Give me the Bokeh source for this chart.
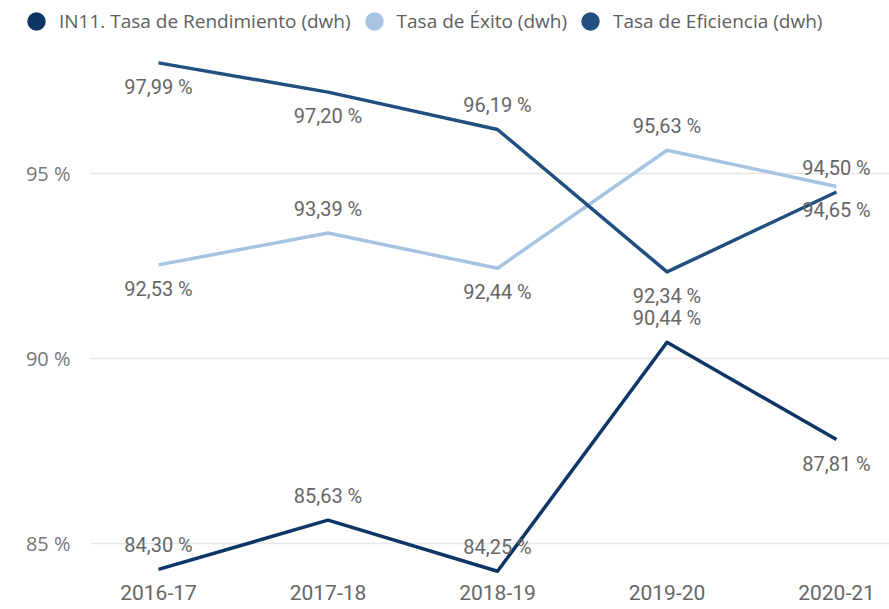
from bokeh.plotting import figure
from bokeh.layouts import column
from bokeh.models import ColumnDataSource, Range1d, FixedTicker, Legend, LegendItem
from bokeh.core.properties import value
from bokeh.embed import file_html
from bokeh.resources import INLINE

# ---- data ----
years = ["2016-17", "2017-18", "2018-19", "2019-20", "2020-21"]
rendimiento = [84.30, 85.63, 84.25, 90.44, 87.81]
exito = [92.53, 93.39, 92.44, 95.63, 94.65]
eficiencia = [97.99, 97.20, 96.19, 92.34, 94.50]
y_ticks = [85, 90, 95]
series_names = ["IN11. Tasa de Rendimiento (dwh)", "Tasa de Éxito (dwh)", "Tasa de Eficiencia (dwh)"]

# ---- style ----
colors = ["#0D3566", "#A6C4E1", "#21507F"]
label_side = [
    ["above", "above", "above", "above", "below"],
    ["below", "above", "below", "above", "below"],
    ["below", "below", "above", "below", "above"],
]
LABEL_OFF = 24
TEXT_GREY = "#666666"

W = 889
LEG_H = 42
H = 609 - LEG_H
LEFT, BOTTOM = 90, 25
frame_h = H - BOTTOM
px_per_unit = 37.0
y_top = 95 + (173 - LEG_H) / px_per_unit
y_bottom = y_top - frame_h / px_per_unit
x_px = 169.5
x_left = (90 - 158) / x_px
x_right = (889 - 158) / x_px

xs = list(range(len(years)))
all_series = [rendimiento, exito, eficiencia]

# ---- legend strip ----
lf = figure(width=W, height=LEG_H, output_backend="svg", toolbar_location=None,
            x_range=Range1d(0, 1), y_range=Range1d(0, 1),
            min_border_left=0, min_border_right=0, min_border_top=0, min_border_bottom=0)
lf.frame_align = False
lf.axis.visible = False
lf.grid.visible = False
lf.outline_line_color = None
lf.border_fill_color = "white"
items = []
for name, vals, col in zip(series_names, all_series, colors):
    r = lf.scatter(x=xs, y=vals, marker="circle", size=0, line_width=0,
                   fill_color=col, line_color=col)
    items.append(LegendItem(label=name, renderers=[r]))
GL = 46
legend = Legend(items=items, orientation="horizontal",
                location=(13, LEG_H - (21 + GL // 2)),
                glyph_width=GL, glyph_height=GL, label_standoff=-20,
                spacing=-24, padding=0, margin=0,
                label_text_font="Open Sans", label_text_font_size="19px",
                label_text_color="#605E5C", label_text_baseline="middle",
                border_line_color=None, background_fill_alpha=0)
lf.add_layout(legend, "center")

# ---- main chart ----
p = figure(width=W, height=H, output_backend="svg", toolbar_location=None,
           x_range=Range1d(x_left, x_right), y_range=Range1d(y_bottom, y_top),
           min_border_left=LEFT, min_border_right=0, min_border_top=0,
           min_border_bottom=BOTTOM)
p.frame_align = False
p.outline_line_color = None
p.background_fill_color = "white"
p.border_fill_color = "white"

xa = p.xaxis[0]
xa.ticker = FixedTicker(ticks=xs)
xa.major_label_overrides = {i: y for i, y in enumerate(years)}
xa.axis_line_color = None
xa.major_tick_line_color = None
xa.minor_tick_line_color = None
xa.major_tick_out = 0
xa.major_tick_in = 0
xa.major_label_standoff = 0
xa.major_label_text_font = "Roboto"
xa.major_label_text_font_size = "21px"
xa.major_label_text_color = TEXT_GREY

ya = p.yaxis[0]
ya.ticker = FixedTicker(ticks=y_ticks)
ya.major_label_overrides = {t: f"{t} %" for t in y_ticks}
ya.axis_line_color = None
ya.major_tick_line_color = None
ya.minor_tick_line_color = None
ya.major_tick_out = 0
ya.major_tick_in = 0
ya.major_label_standoff = 20
ya.major_label_text_font = "Open Sans"
ya.major_label_text_font_size = "20px"
ya.major_label_text_color = "#777777"

p.xgrid.grid_line_color = None
p.ygrid.ticker = FixedTicker(ticks=y_ticks)
p.ygrid.grid_line_color = "#E6E6E6"
p.ygrid.grid_line_width = 1.5

sources = []
for vals, sides in zip(all_series, label_side):
    sources.append(ColumnDataSource(dict(
        x=xs, y=vals,
        lab=[f"{v:.2f}".replace(".", ",") + " %" for v in vals],
        dy=[-LABEL_OFF if s == "above" else LABEL_OFF for s in sides],
    )))

for src, col in zip(sources, colors):
    p.line("x", "y", source=src, line_color=col, line_width=3.5, line_join="round")

for src in sources:
    p.text("x", "y", text="lab", source=src, y_offset="dy",
           text_font=value("Roboto"), text_font_size="20px",
           text_color=TEXT_GREY, text_align="center", text_baseline="middle")

layout = column(lf, p, spacing=0)
open("out.html", "w").write(file_html(layout, INLINE))
